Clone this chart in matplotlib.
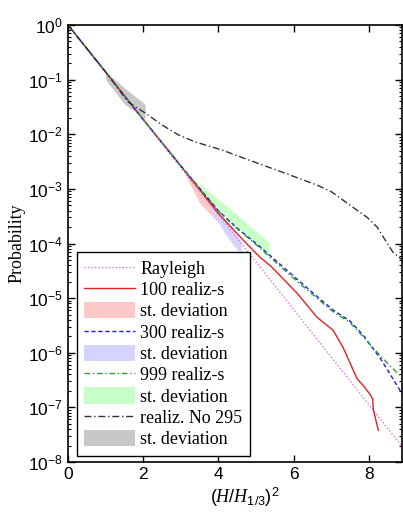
import matplotlib
matplotlib.use("Agg")
import matplotlib.pyplot as plt
import numpy as np

plt.rcParams['mathtext.fontset'] = 'custom'
plt.rcParams['mathtext.rm'] = 'Liberation Sans'
plt.rcParams['mathtext.it'] = 'Liberation Serif:italic'
plt.rcParams['font.family'] = ['Liberation Sans', 'DejaVu Sans']

# values, y as log10(probability)
x_ray = [0, 1, 2, 3, 4, 5, 6, 7, 8, 9]
lg_ray = [0, -0.87, -1.74, -2.61, -3.47, -4.34, -5.21, -6.08, -6.95, -7.82]

x_100 = [0, 1, 2, 3, 4, 4.66, 5.1, 5.4, 6.09, 6.62, 7.05, 7.15, 7.31, 7.5,
         7.68, 7.85, 8.05, 8.1, 8.12, 8.25]
lg_100 = [0, -0.86, -1.73, -2.58, -3.45, -3.94, -4.25, -4.42, -4.91, -5.35,
          -5.59, -5.71, -5.9, -6.19, -6.47, -6.6, -6.78, -6.85, -7.05, -7.42]

x_300 = [0, 1, 2, 3, 4, 4.5, 5, 5.37, 6.1, 6.62, 7.05, 7.5, 7.85, 8.03, 8.3,
         8.5, 8.88]
lg_300 = [0, -0.86, -1.73, -2.58, -3.4, -3.72, -4.0, -4.22, -4.66, -4.97,
          -5.22, -5.42, -5.68, -5.85, -6.1, -6.32, -6.75]

x_999 = [0, 1, 2, 3, 4, 4.5, 5, 5.37, 6.1, 6.62, 7.05, 7.5, 7.85, 8.03, 8.3,
         8.5, 8.88]
lg_999 = [0, -0.86, -1.73, -2.58, -3.41, -3.73, -4.02, -4.25, -4.7, -5.0,
          -5.25, -5.45, -5.71, -5.85, -6.05, -6.2, -6.45]

x_295 = [0, 1, 1.6, 2.05, 2.5, 2.93, 3.38, 4.1, 4.84, 5.72, 6.62, 7.02, 7.5,
         7.95, 8.22, 8.38, 8.64, 8.88]
lg_295 = [0, -0.86, -1.41, -1.61, -1.83, -2.01, -2.14, -2.29, -2.48, -2.7,
          -2.93, -3.06, -3.3, -3.52, -3.7, -3.88, -4.16, -4.3]

# st. deviation bands: x, lower, upper
x_sd100 = [3.1, 3.5, 4.0]
lo_sd100 = [-2.72, -3.26, -3.62]
hi_sd100 = [-2.64, -2.95, -3.38]

x_sd300 = [3.8, 4.2, 4.6]
lo_sd300 = [-3.38, -3.85, -4.2]
hi_sd300 = [-3.28, -3.6, -3.95]

x_sd999 = [3.5, 4.5, 5.35]
lo_sd999 = [-3.0, -3.7, -4.2]
hi_sd999 = [-2.9, -3.48, -3.98]

x_sd295 = [1.0, 1.5, 2.05]
lo_sd295 = [-1.0, -1.45, -1.72]
hi_sd295 = [-0.85, -1.15, -1.45]


def p(v):
    return 10 ** np.asarray(v)


fig = plt.figure(figsize=(4.03, 5.18), dpi=100)
ax = fig.add_axes([68 / 403, 56 / 518, 334 / 403, 437 / 518])

h_ray, = ax.plot(x_ray, p(lg_ray), color='#e070e0', lw=1, ls=(0, (1, 1.5)))
h_100, = ax.plot(x_100, p(lg_100), color='#e82020', lw=1)
f_100 = ax.fill_between(x_sd100, p(lo_sd100), p(hi_sd100), color='#ffc8c8', lw=0)
h_300, = ax.plot(x_300, p(lg_300), color='#1a1aee', lw=1, ls=(0, (3, 2)))
f_300 = ax.fill_between(x_sd300, p(lo_sd300), p(hi_sd300), color='#d4d4ff', lw=0)
h_999, = ax.plot(x_999, p(lg_999), color='#2ca02c', lw=1, ls=(0, (4, 2, 1, 2)))
f_999 = ax.fill_between(x_sd999, p(lo_sd999), p(hi_sd999), color='#c8ffc8', lw=0)
h_295, = ax.plot(x_295, p(lg_295), color='#333333', lw=1, ls=(0, (5, 2, 1, 2)))
f_295 = ax.fill_between(x_sd295, p(lo_sd295), p(hi_sd295), color='#c8c8c8', lw=0)

# bands sit beneath the lines
for f in (f_100, f_300, f_999, f_295):
    f.set_zorder(1)

ax.set_yscale('log')
ax.set_ylim(1e-8, 1)
ax.set_xlim(0, 8.88)
ax.set_xticks([0, 2, 4, 6, 8])
ax.set_yticks([10.0 ** k for k in range(-8, 1)])
ax.tick_params(which='both', direction='in', top=True, right=True, labelsize=12.5)
ax.tick_params(which='major', length=5, width=1)
ax.tick_params(which='minor', length=2.5, width=0.8)
for s in ax.spines.values():
    s.set_linewidth(1.2)

ax.set_ylabel('Probability', family='Liberation Serif', fontsize=13, labelpad=2)
ax.set_xlabel(r'$(H/H_{1/3})^2$', fontsize=13)
ax.xaxis.set_label_coords(0.53, -0.055)

leg = ax.legend([h_ray, h_100, f_100, h_300, f_300, h_999, f_999, h_295, f_295],
                ['Rayleigh', '100 realiz-s', 'st. deviation', '300 realiz-s',
                 'st. deviation', '999 realiz-s', 'st. deviation',
                 'realiz. No 295', 'st. deviation'],
                loc='upper left', bbox_to_anchor=(0.027, 0.48), borderaxespad=0,
                prop={'family': 'Liberation Serif', 'size': 13},
                fancybox=False, framealpha=1, edgecolor='black',
                handlelength=2.8, handleheight=1.0, labelspacing=0.17,
                handletextpad=0.3, borderpad=0.4)
leg.get_frame().set_linewidth(1.0)

fig.savefig('out.png', dpi=100)
